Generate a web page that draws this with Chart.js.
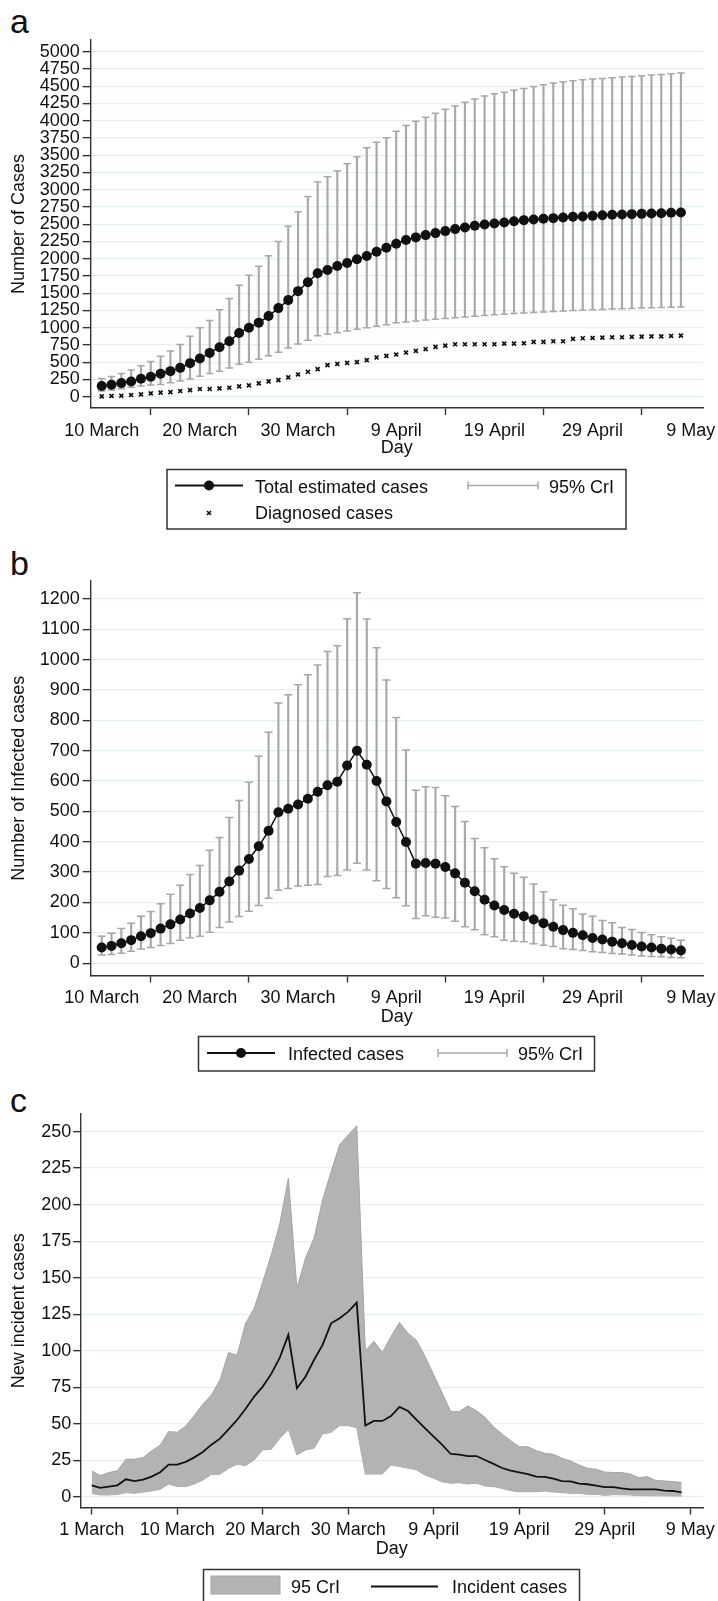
<!DOCTYPE html>
<html>
<head>
<meta charset="utf-8">
<script src="https://cdn.jsdelivr.net/npm/chart.js@4.4.1/dist/chart.umd.min.js"></script>
<style>
  html, body { margin: 0; padding: 0; background: #fff; }
  body { width: 718px; height: 1601px; position: relative; overflow: hidden;
         font-family: "Liberation Sans", Arial, sans-serif; color: #111; }
  canvas { position: absolute; left: 0; }
  .letter { position: absolute; left: 10px; font-size: 34px; line-height: 1; }
  #legends { position: absolute; left: 0; top: 0; }
  #legends text { font-family: "Liberation Sans", Arial, sans-serif; font-size: 18px; fill: #111; }
</style>
</head>
<body>
<div class="letter" style="top:4px">a</div>
<div class="letter" style="top:546px">b</div>
<div class="letter" style="top:1083px">c</div>

<canvas id="chartA" width="718" height="470" style="top:0px"></canvas>
<canvas id="chartB" width="718" height="495" style="top:540px"></canvas>
<canvas id="chartC" width="718" height="508" style="top:1060px"></canvas>

<svg id="legends" width="718" height="1601">
  <!-- legend a -->
  <rect x="167" y="469.5" width="459" height="59.5" fill="none" stroke="#333" stroke-width="1.5"/>
  <line x1="175" y1="485.5" x2="243" y2="485.5" stroke="#111" stroke-width="2"/>
  <circle cx="209" cy="485.5" r="5" fill="#111"/>
  <text x="255" y="492.5">Total estimated cases</text>
  <line x1="468" y1="485.5" x2="538" y2="485.5" stroke="#a8a8a8" stroke-width="1.5"/>
  <line x1="468" y1="481.5" x2="468" y2="489.5" stroke="#a8a8a8" stroke-width="1.5"/>
  <line x1="538" y1="481.5" x2="538" y2="489.5" stroke="#a8a8a8" stroke-width="1.5"/>
  <text x="549" y="492.5">95% CrI</text>
  <line x1="207" y1="511" x2="211" y2="515" stroke="#111" stroke-width="1.6"/>
  <line x1="211" y1="511" x2="207" y2="515" stroke="#111" stroke-width="1.6"/>
  <text x="255" y="519">Diagnosed cases</text>

  <!-- legend b -->
  <rect x="198.5" y="1036.5" width="396" height="34.5" fill="none" stroke="#333" stroke-width="1.5"/>
  <line x1="207" y1="1053" x2="275" y2="1053" stroke="#111" stroke-width="2"/>
  <circle cx="241" cy="1053" r="5" fill="#111"/>
  <text x="288" y="1059.5">Infected cases</text>
  <line x1="438" y1="1053" x2="507" y2="1053" stroke="#a8a8a8" stroke-width="1.5"/>
  <line x1="438" y1="1049" x2="438" y2="1057" stroke="#a8a8a8" stroke-width="1.5"/>
  <line x1="507" y1="1049" x2="507" y2="1057" stroke="#a8a8a8" stroke-width="1.5"/>
  <text x="518" y="1059.5">95% CrI</text>

  <!-- legend c -->
  <rect x="203.5" y="1569.5" width="376" height="50" fill="none" stroke="#333" stroke-width="1.5"/>
  <rect x="211" y="1576" width="69" height="18" fill="#b3b3b3" stroke="#a3a3a3" stroke-width="1"/>
  <text x="291" y="1593">95 CrI</text>
  <line x1="371" y1="1586.5" x2="438" y2="1586.5" stroke="#111" stroke-width="2"/>
  <text x="452" y="1593">Incident cases</text>
</svg>

<script>
// ---- panel a: cumulative cases, 10 March .. 8 May
const totalEstimated = [154, 173, 197, 221, 260, 289, 332, 370, 418, 486,
  553, 635, 717, 803, 924, 1000, 1073, 1169, 1284, 1400,
  1530, 1659, 1789, 1837, 1895, 1938, 1991, 2039, 2102, 2160,
  2217, 2270, 2309, 2342, 2371, 2400, 2429, 2453, 2477, 2496,
  2511, 2525, 2544, 2559, 2569, 2578, 2588, 2597, 2607, 2612,
  2621, 2631, 2636, 2641, 2646, 2650, 2655, 2660, 2665, 2670];
const totalUpper = [265, 293, 337, 385, 447, 510, 587, 664, 755, 875,
  1000, 1106, 1260, 1424, 1616, 1760, 1890, 2044, 2251, 2472,
  2679, 2900, 3112, 3189, 3276, 3377, 3478, 3608, 3689, 3752,
  3848, 3930, 3992, 4050, 4108, 4165, 4214, 4266, 4315, 4358,
  4392, 4411, 4440, 4468, 4497, 4521, 4545, 4565, 4579, 4594,
  4603, 4613, 4622, 4632, 4642, 4651, 4661, 4671, 4680, 4690];
const totalLower = [82, 96, 115, 135, 154, 168, 178, 202, 226, 255,
  298, 337, 370, 414, 471, 500, 544, 592, 645, 707,
  765, 818, 885, 904, 928, 952, 976, 1000, 1020, 1044,
  1070, 1084, 1097, 1110, 1122, 1134, 1145, 1156, 1166, 1176,
  1186, 1195, 1204, 1212, 1220, 1227, 1234, 1241, 1248, 1254,
  1260, 1265, 1270, 1275, 1280, 1284, 1288, 1292, 1296, 1299];
const diagnosed = [5, 10, 14, 24, 34, 48, 58, 67, 82, 96,
  111, 111, 120, 130, 149, 164, 192, 221, 240, 279,
  322, 361, 399, 457, 476, 490, 500, 529, 568, 592,
  611, 640, 664, 688, 721, 741, 760, 760, 760, 760,
  760, 770, 770, 774, 794, 794, 803, 803, 837, 847,
  851, 856, 861, 861, 866, 871, 875, 875, 880, 885];

// ---- panel b: infected cases
const infected = [52, 57, 66, 76, 89, 99, 114, 128, 144, 164,
  182, 207, 235, 269, 305, 343, 385, 436, 497, 509,
  523, 542, 565, 586, 598, 651, 700, 654, 600, 533,
  465, 399, 328, 330, 328, 317, 296, 265, 237, 209,
  190, 175, 163, 155, 144, 132, 120, 109, 100, 92,
  83, 78, 71, 66, 60, 55, 52, 48, 45, 42];
const infectedUpper = [89, 99, 114, 132, 155, 170, 196, 227, 257, 292,
  322, 372, 414, 480, 536, 596, 682, 761, 857, 884,
  917, 950, 982, 1027, 1046, 1135, 1220, 1134, 1039, 933,
  809, 702, 570, 581, 579, 552, 516, 467, 411, 380,
  344, 318, 296, 283, 261, 235, 209, 191, 179, 162,
  155, 141, 133, 118, 111, 101, 94, 87, 82, 76];
const infectedLower = [27, 29, 33, 39, 47, 52, 58, 65, 76, 84,
  89, 102, 118, 136, 154, 171, 190, 214, 240, 246,
  254, 257, 259, 286, 289, 307, 329, 307, 272, 246,
  216, 189, 147, 156, 151, 149, 138, 120, 110, 94,
  87, 76, 72, 71, 64, 59, 55, 48, 45, 42,
  38, 35, 32, 30, 27, 24, 22, 21, 19, 18];

// ---- panel c: new incident cases
const incident = [8.0, 6.2, 7.1, 8.0, 12.1, 10.9, 11.9, 13.9, 16.9, 22.1,
  22.1, 24.0, 27.1, 30.8, 35.8, 39.9, 46.3, 52.7, 60.4, 68.7,
  75.5, 84.2, 95.3, 110.9, 74.4, 82.3, 93.7, 104, 118.8, 122.3,
  126.8, 133, 48.8, 52, 52, 55.4, 61.6, 58.8, 52.7, 47,
  41.3, 35.6, 29.4, 29, 28, 28, 25.3, 22.6, 19.8, 18,
  16.9, 15.7, 13.9, 13.7, 12.5, 10.9, 10.7, 9.1, 8.7, 7.8,
  6.8, 6.8, 5.9, 5.2, 5.2, 5.2, 5.2, 4.3, 4.1, 3.2];
const incidentUpper = [17.8, 14.6, 16.7, 18, 25.8, 25.8, 26.9, 31.5, 35.4, 44.7,
  44.3, 48.6, 55.7, 63.4, 69.8, 80, 98.8, 97, 118.8, 129,
  147, 165.6, 187, 218, 142.8, 163.3, 177, 203, 222.6, 240.9,
  247.7, 254, 100, 106.5, 98.8, 109.7, 119.3, 112, 107, 96,
  83.5, 71, 58.4, 58.4, 62.3, 59, 54.5, 48, 43, 38.5,
  34.4, 34.4, 31.7, 29.9, 29.2, 26.5, 24.6, 21.9, 19.6, 18.9,
  17.1, 16.7, 16.7, 15.7, 13.2, 13.9, 11.2, 11, 10.5, 10];
const incidentLower = [2.5, 1.4, 1.4, 1.8, 3, 2.5, 3.4, 4.1, 5.2, 8.9,
  7.1, 7.1, 8.9, 11.6, 15.5, 15.5, 19.6, 22.4, 21.4, 25.3,
  32.2, 32.6, 40.1, 46.3, 28.7, 32.2, 33.3, 43.1, 44.3, 48.8,
  48.8, 47.4, 15.7, 15.7, 15.7, 21.9, 20.8, 19.8, 18.5, 15,
  12.8, 10.3, 9.4, 9.8, 8.9, 9.4, 7.5, 7.1, 5.9, 4.3,
  3.6, 3.6, 3.6, 4.1, 3.4, 3, 2.5, 2.5, 1.8, 1.8,
  1.1, 1.6, 1.5, 1.4, 0.9, 0.9, 0.8, 0.8, 0.7, 0.6];

// ---- axes
const xTicksAB = [0, 10, 20, 30, 40, 50, 60];
const xLabelsAB = ['10 March', '20 March', '30 March', '9 April', '19 April', '29 April', '9 May'];
const xTicksC = [0, 10, 20, 30, 40, 50, 60, 70];
const xLabelsC = ['1 March', '10 March', '20 March', '30 March', '9 April', '19 April', '29 April', '9 May'];
const yTicksA = [0, 250, 500, 750, 1000, 1250, 1500, 1750, 2000, 2250, 2500, 2750,
  3000, 3250, 3500, 3750, 4000, 4250, 4500, 4750, 5000];
const yTicksB = [0, 100, 200, 300, 400, 500, 600, 700, 800, 900, 1000, 1100, 1200];
const yTicksC = [0, 25, 50, 75, 100, 125, 150, 175, 200, 225, 250];

const FONT = "'Liberation Sans', Arial, sans-serif";
const TEXT = '#111';
const AXIS = '#333';
const GRID = '#e6eef1';
const CI = '#a8a8a8';

const pts = arr => arr.map((v, i) => ({ x: i, y: v }));
const bars = (lo, hi) => lo.map((v, i) => ({ x: i, y: [v, hi[i]] }));

function axes(p) {
  const font = { family: FONT, size: 18, lineHeight: 1 };
  return {
    x: {
      type: 'linear', min: p.xMin, max: p.xMax, offset: false,
      afterBuildTicks: s => { s.ticks = p.xTicks.map(v => ({ value: v })); },
      afterFit: s => { s.height = p.xHeight; s.paddingLeft = 0; s.paddingRight = 0; },
      ticks: { autoSkip: false, maxRotation: 0, minRotation: 0, padding: 7, color: TEXT, font,
               callback: (v, i) => p.xLabels[i] },
      grid: { drawOnChartArea: false, drawTicks: true, tickLength: 7, tickColor: AXIS, tickWidth: 1.4 },
      border: { display: true, color: AXIS, width: 1.4 },
      title: { display: true, text: 'Day', color: TEXT, font, padding: { top: 0, bottom: p.xTitlePad } }
    },
    y: {
      type: 'linear', min: p.yMin, max: p.yMax,
      afterBuildTicks: s => { s.ticks = p.yTicks.map(v => ({ value: v })); },
      afterFit: s => { s.width = p.yWidth; s.paddingTop = 0; s.paddingBottom = 0; },
      ticks: { autoSkip: false, padding: p.yPad, color: TEXT, font, callback: v => String(v) },
      grid: { color: GRID, lineWidth: 1.3, drawTicks: true, tickLength: p.yTick, tickColor: AXIS, tickWidth: 1.4 },
      border: { display: true, color: AXIS, width: 1.4 },
      title: { display: true, text: p.yTitle, color: TEXT, font, padding: { top: 10, bottom: 0 } }
    }
  };
}

function baseOptions(p) {
  return {
    responsive: false,
    animation: false,
    events: [],
    devicePixelRatio: 1,
    layout: { padding: { left: 0, right: 15, top: p.top, bottom: 0 } },
    plugins: { legend: { display: false }, tooltip: { enabled: false } },
    scales: axes(p)
  };
}

// panel a
new Chart(document.getElementById('chartA'), {
  type: 'bar',
  data: {
    datasets: [
      { type: 'line', data: pts(totalEstimated), borderColor: '#111', borderWidth: 1.5,
        pointRadius: 5, pointBackgroundColor: '#111', pointBorderColor: '#111', pointBorderWidth: 0, order: 0 },
      { type: 'line', data: pts(diagnosed), showLine: false, pointStyle: 'crossRot',
        pointRadius: 2.8, pointBorderColor: '#111', pointBorderWidth: 1.7, order: 1 },
      { type: 'line', data: pts(totalUpper), showLine: false, pointStyle: 'line',
        pointRadius: 3.7, pointBorderColor: CI, pointBorderWidth: 1.5, order: 2 },
      { type: 'line', data: pts(totalLower), showLine: false, pointStyle: 'line',
        pointRadius: 3.7, pointBorderColor: CI, pointBorderWidth: 1.5, order: 2 },
      { type: 'bar', data: bars(totalLower, totalUpper), backgroundColor: CI,
        barThickness: 1.5, borderWidth: 0, order: 3 }
    ]
  },
  options: baseOptions({
    top: 40, xMin: -1.12, xMax: 61.25, xTicks: xTicksAB, xLabels: xLabelsAB, xHeight: 62, xTitlePad: 12.5,
    yMin: -164, yMax: 5170, yTicks: yTicksA, yWidth: 90.7, yTick: 8, yPad: 3, yTitle: 'Number of Cases'
  })
});

// panel b
new Chart(document.getElementById('chartB'), {
  type: 'bar',
  data: {
    datasets: [
      { type: 'line', data: pts(infected), borderColor: '#111', borderWidth: 1.5,
        pointRadius: 5, pointBackgroundColor: '#111', pointBorderColor: '#111', pointBorderWidth: 0, order: 0 },
      { type: 'line', data: pts(infectedUpper), showLine: false, pointStyle: 'line',
        pointRadius: 4, pointBorderColor: CI, pointBorderWidth: 1.5, order: 2 },
      { type: 'line', data: pts(infectedLower), showLine: false, pointStyle: 'line',
        pointRadius: 4, pointBorderColor: CI, pointBorderWidth: 1.5, order: 2 },
      { type: 'bar', data: bars(infectedLower, infectedUpper), backgroundColor: CI,
        barThickness: 1.5, borderWidth: 0, order: 3 }
    ]
  },
  options: baseOptions({
    top: 41, xMin: -1.12, xMax: 61.25, xTicks: xTicksAB, xLabels: xLabelsAB, xHeight: 59.5, xTitlePad: 9.3,
    yMin: -40.5, yMax: 1259, yTicks: yTicksB, yWidth: 90.7, yTick: 8, yPad: 3, yTitle: 'Number of Infected cases'
  })
});

// panel c
new Chart(document.getElementById('chartC'), {
  type: 'line',
  data: {
    datasets: [
      { data: pts(incident), borderColor: '#111', borderWidth: 1.8, pointRadius: 0, fill: false, order: 0 },
      { data: pts(incidentUpper), borderColor: '#a3a3a3', borderWidth: 1, pointRadius: 0,
        fill: '+1', backgroundColor: '#b3b3b3', order: 1 },
      { data: pts(incidentLower), borderColor: '#a3a3a3', borderWidth: 1, pointRadius: 0, fill: false, order: 2 }
    ]
  },
  options: baseOptions({
    top: 54, xMin: -1.29, xMax: 71.5, xTicks: xTicksC, xLabels: xLabelsC, xHeight: 60.5, xTitlePad: 10.3,
    yMin: -7.2, yMax: 262, yTicks: yTicksC, yWidth: 80.7, yTick: 7.5, yPad: 2, yTitle: 'New incident cases'
  })
});
</script>
</body>
</html>
